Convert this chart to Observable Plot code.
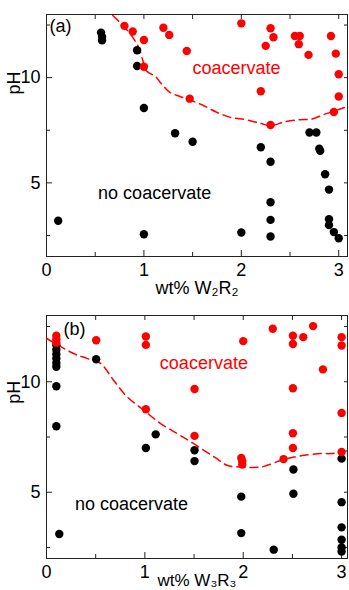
<!DOCTYPE html>
<html><head><meta charset="utf-8">
<script src="https://cdn.jsdelivr.net/npm/d3@7"></script>
<script src="https://cdn.jsdelivr.net/npm/@observablehq/plot@0.6"></script>
<style>body{margin:0;background:#fff} svg{display:block}</style>
</head><body><div id="chart"></div>
<script>
// Panel (a): [wt%, pH]
const aNoCoac = [[0.12,3.2],[0.56,12.14],[0.57,11.95],[0.57,11.77],[0.93,11.3],[0.93,10.55],[1.0,8.56],[1.0,2.56],
  [1.32,7.36],[1.5,6.95],[2.0,2.64],[2.2,6.69],[2.3,6.0],[2.3,4.08],[2.3,3.24],[2.3,2.45],[2.7,7.39],[2.77,7.39],
  [2.8,6.62],[2.81,6.52],[2.86,5.41],[2.9,4.68],[2.9,3.27],[2.9,2.99],[2.95,2.66],[3.0,2.37]];
const aCoac = [[0.8,12.46],[0.885,12.19],[1.0,11.79],[1.0,10.52],[1.2,12.37],[1.26,12.03],[1.44,11.27],[1.47,9.0],
  [2.0,12.58],[2.3,12.35],[2.33,11.92],[2.25,11.51],[2.55,11.98],[2.6,11.98],[2.59,11.59],[2.69,11.08],[2.92,11.98],
  [2.97,11.14],[3.0,10.16],[3.0,9.1],[2.95,8.37],[2.2,9.35],[2.3,7.75]];
const aBoundary = [[0.68,12.95],[0.78,12.5],[0.88,11.95],[0.95,11.4],[0.99,10.8],[1.03,10.3],[1.12,10.05],[1.17,9.76],
  [1.22,9.5],[1.27,9.29],[1.37,9.1],[1.48,8.92],[1.6,8.7],[1.75,8.35],[1.9,8.1],[2.05,8.0],[2.2,7.82],[2.3,7.72],
  [2.45,7.9],[2.6,8.0],[2.72,8.03],[2.85,8.25],[2.95,8.4],[3.1,8.65]];

// Panel (b): [wt%, pH]
const bNoCoac = [[0.1,11.65],[0.1,11.45],[0.1,11.25],[0.1,11.05],[0.1,10.85],[0.1,10.68],[0.1,9.8],[0.1,7.99],[0.13,3.11],
  [0.505,11.02],[1.01,7.0],[1.11,7.62],[1.505,6.9],[1.505,6.41],[1.98,4.8],[1.98,3.15],[2.31,2.4],[2.51,6.03],[2.51,4.93],
  [3.0,6.52],[3.0,4.55],[3.0,3.41],[3.0,2.85],[3.0,2.5],[3.0,2.32]];
const bCoac = [[0.1,12.08],[0.1,11.93],[0.1,11.77],[0.505,11.88],[1.01,12.05],[1.01,11.67],[1.01,8.76],[1.505,9.67],[1.505,7.55],
  [2.0,11.84],[1.98,6.55],[1.99,6.4],[1.99,6.25],[2.3,12.4],[2.41,6.5],[2.505,12.08],[2.505,11.71],[2.61,12.02],[2.71,12.52],
  [2.81,10.56],[2.505,9.71],[2.505,7.67],[2.505,7.0],[3.0,12.02],[3.0,11.64],[3.0,8.59],[3.0,6.82]];
const bBoundary = [[0.0,11.97],[0.27,11.29],[0.41,11.06],[0.55,10.83],[0.68,10.08],[0.82,9.32],[0.99,8.71],[1.16,8.11],
  [1.33,7.65],[1.46,7.3],[1.6,6.9],[1.72,6.55],[1.84,6.21],[1.97,6.14],[2.1,6.12],[2.21,6.17],[2.38,6.44],[2.52,6.59],
  [2.62,6.67],[2.79,6.75],[2.89,6.75],[3.0,6.82],[3.08,6.9]];

// ticks
const xMajor = [0,1,2,3];
const xMinor = [0.5,1.5,2.5];
const xAll = [0.5,1,1.5,2,2.5,3];
const yMajor = [5,10];
const yMinor = [2.5,7.5,12.5];
const yAll = [2.5,5,7.5,10,12.5];

// labels
const labelsA = {tag:"(a)", xLabel:"wt% W\u2082R\u2082", coac:[1.95,10.45], noCoac:[1.11,4.53], pH:9.2};
const labelsB = {tag:"(b)", xLabel:"wt% W\u2083R\u2083", coac:[1.6,10.83], noCoac:[0.865,4.46], pH:9.0};

const FONT = "'Liberation Sans', Arial, Helvetica, sans-serif";

function panel({black, red, line, yDomain, xDomain, height, marginTop, marginBottom, L, tagDx, tagDy, labelDy, labelSize}) {
  return Plot.plot({
    width: 349, height, marginLeft: 46, marginRight: 2, marginTop, marginBottom,
    style: {fontFamily: FONT, fontSize: "18px", background: "white", color: "black", overflow: "visible"},
    x: {domain: xDomain},
    y: {domain: yDomain},
    marks: [
      Plot.axisX(xMajor, {tickSize: -6, tickPadding: 13, label: null, stroke: "#222"}),
      Plot.axisX(xMinor, {tickSize: -4, tickFormat: () => "", label: null, stroke: "#222"}),
      Plot.axisX(xAll, {anchor: "top", tickSize: -4, tickFormat: () => "", label: null, stroke: "#222"}),
      Plot.axisY(yMajor, {tickSize: -6, tickPadding: 12, label: null, stroke: "#222"}),
      Plot.axisY(yMinor, {tickSize: -4, tickFormat: () => "", label: null, stroke: "#222"}),
      Plot.axisY(yAll, {anchor: "right", tickSize: -4, tickFormat: () => "", label: null, stroke: "#222"}),
      Plot.frame({stroke: "#222"}),
      Plot.line(line, {x: d => d[0], y: d => d[1], stroke: "#ff0000", strokeWidth: 1.5, strokeDasharray: "8,5", curve: "catmull-rom", clip: true}),
      Plot.dot(black, {x: d => d[0], y: d => d[1], r: 4.2, fill: "black"}),
      Plot.dot(red, {x: d => d[0], y: d => d[1], r: 4.2, fill: "#ff0000"}),
      Plot.text([L.tag], {frameAnchor: "top-left", dx: tagDx, dy: tagDy, textAnchor: "start", lineAnchor: "middle", fill: "black"}),
      Plot.text(["coacervate"], {x: L.coac[0], y: L.coac[1], fill: "#ff0000", lineAnchor: "middle"}),
      Plot.text(["no coacervate"], {x: L.noCoac[0], y: L.noCoac[1], fill: "black", lineAnchor: "middle"}),
      Plot.text(["pH"], {frameAnchor: "left", y: L.pH, dx: -32, rotate: -90, fill: "black"}),
      Plot.text([L.xLabel], {frameAnchor: "bottom", dy: labelDy, lineAnchor: "bottom", fill: "black", fontSize: labelSize})
    ]
  });
}

const chart = document.getElementById("chart");
chart.append(panel({black: aNoCoac, red: aCoac, line: aBoundary, yDomain: [1.5, 13], xDomain: [0, 3.09],
  height: 300, marginTop: 14, marginBottom: 44, L: labelsA, tagDx: 3, tagDy: 12, labelDy: 37, labelSize: 18}));
chart.append(panel({black: bNoCoac, red: bCoac, line: bBoundary, yDomain: [2, 13], xDomain: [0, 3.06],
  height: 290, marginTop: 15, marginBottom: 32, L: labelsB, tagDx: 17, tagDy: 14, labelDy: 27, labelSize: 17}));
</script>
</body></html>
